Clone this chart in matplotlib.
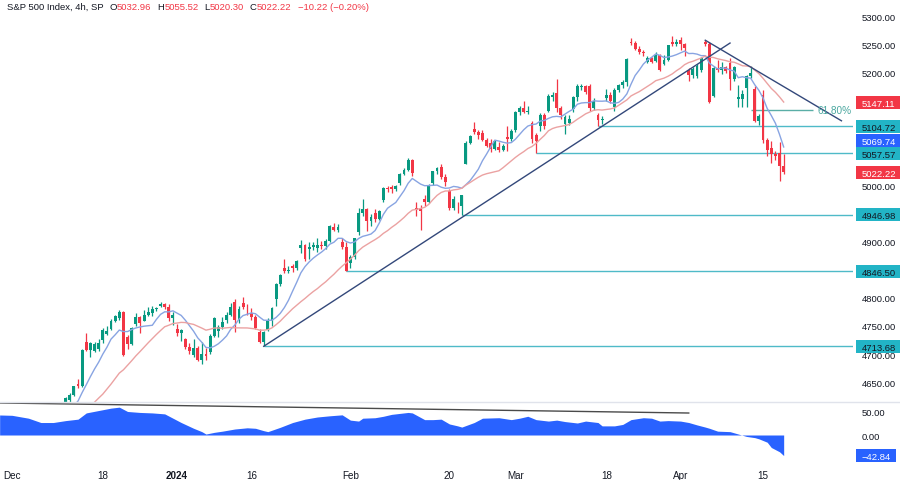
import matplotlib
matplotlib.use("Agg")
import matplotlib.pyplot as plt
import numpy as np
import pandas as pd
from matplotlib.patches import Rectangle
from matplotlib.lines import Line2D
from matplotlib.ticker import FixedLocator, FuncFormatter

plt.rcParams['font.family'] = ['Liberation Sans', 'DejaVu Sans']

# ---------------- data (4h candles, 1 Dec 2023 .. 17 Apr 2024) ----------------
opens = [4559, 4566, 4564, 4555, 4557, 4566, 4586, 4575, 4568, 4578,
         4576, 4596, 4601, 4610, 4618, 4628, 4646, 4643, 4721, 4707,
         4706, 4708, 4725, 4736, 4744, 4759, 4764, 4774, 4730, 4718,
         4753, 4765, 4758, 4770, 4773, 4780, 4786, 4789, 4783, 4764,
         4745, 4737, 4726, 4712, 4698, 4710, 4690, 4700, 4704, 4732,
         4741, 4748, 4760, 4770, 4792, 4760, 4791, 4784, 4772, 4766,
         4739, 4722, 4742, 4759, 4797, 4824, 4853, 4848, 4856, 4852,
         4888, 4893, 4886, 4890, 4888, 4893, 4892, 4901, 4925, 4921,
         4899, 4890, 4862, 4872, 4916, 4951, 4957, 4936, 4951, 4940,
         4973, 4995, 4996, 4993, 5004, 5020, 5026, 5045, 4960, 4957,
         4976, 4970, 5003, 5024, 5032, 5015, 4989, 4960, 4963, 4962,
         5038, 5075, 5100, 5094, 5093, 5080, 5074, 5064, 5068, 5062,
         5085, 5082, 5098, 5129, 5136, 5130, 5110, 5088, 5105, 5124,
         5132, 5156, 5164, 5136, 5108, 5110, 5135, 5156, 5174, 5176,
         5175, 5136, 5124, 5115, 5154, 5160, 5139, 5168, 5178, 5183,
         5254, 5252, 5242, 5237, 5219, 5225, 5220, 5230, 5214, 5222,
         5253, 5250, 5257, 5250, 5204, 5195, 5194, 5205, 5254, 5250,
         5158, 5208, 5205, 5209, 5217, 5188, 5152, 5153, 5172, 5193,
         5171, 5114, 5160, 5080, 5065, 5055, 5056, 5032.96]
highs = [4572, 4596, 4568, 4574, 4572, 4578, 4590, 4580, 4582, 4590,
         4600, 4610, 4612, 4623, 4630, 4644, 4655, 4709, 4738, 4722,
         4722, 4726, 4746, 4749, 4762, 4769, 4778, 4776, 4734, 4748,
         4772, 4768, 4778, 4784, 4785, 4784, 4793, 4791, 4788, 4774,
         4754, 4745, 4729, 4720, 4727, 4714, 4721, 4710, 4735, 4765,
         4752, 4765, 4774, 4790, 4798, 4785, 4802, 4788, 4782, 4770,
         4744, 4741, 4764, 4783, 4826, 4842, 4868, 4856, 4860, 4866,
         4903, 4896, 4898, 4898, 4906, 4900, 4905, 4929, 4932, 4930,
         4906, 4898, 4875, 4906, 4960, 4975, 4960, 4948, 4957, 4956,
         4997, 4999, 5000, 5000, 5022, 5030, 5048, 5046, 4970, 4965,
         4982, 5002, 5025, 5032, 5038, 5020, 4993, 4980, 4970, 4983,
         5078, 5089, 5111, 5098, 5097, 5084, 5081, 5080, 5077, 5073,
         5104, 5100, 5132, 5140, 5149, 5140, 5114, 5092, 5127, 5127,
         5162, 5165, 5189, 5140, 5124, 5124, 5158, 5179, 5180, 5178,
         5179, 5155, 5127, 5122, 5170, 5165, 5172, 5180, 5186, 5226,
         5261, 5256, 5246, 5240, 5229, 5228, 5236, 5233, 5230, 5249,
         5264, 5260, 5263, 5252, 5208, 5210, 5215, 5228, 5258, 5253,
         5212, 5222, 5219, 5212, 5225, 5212, 5178, 5168, 5195, 5211,
         5175, 5126, 5168, 5084, 5079, 5060, 5077, 5055.52]
lows = [4546, 4562, 4546, 4552, 4551, 4560, 4572, 4546, 4565, 4575,
        4575, 4592, 4594, 4608, 4615, 4625, 4640, 4641, 4705, 4694,
        4703, 4705, 4719, 4733, 4743, 4756, 4760, 4697, 4709, 4716,
        4750, 4737, 4758, 4768, 4768, 4776, 4783, 4780, 4758, 4751,
        4732, 4723, 4708, 4700, 4695, 4687, 4682, 4690, 4700, 4730,
        4731, 4745, 4755, 4768, 4739, 4755, 4780, 4770, 4760, 4744,
        4719, 4713.68, 4740, 4750, 4785, 4820, 4844, 4844, 4845, 4850,
        4880, 4865, 4869, 4885, 4881, 4886, 4887, 4898, 4918, 4916,
        4886, 4846.5, 4853, 4868, 4912, 4945, 4918, 4928, 4934, 4938,
        4970, 4988, 4985, 4990, 5000, 5018, 5024, 5016, 4945, 4920,
        4963, 4968, 5000, 5020, 5010, 4999, 4955, 4956, 4950, 4946.98,
        5038, 5072, 5090, 5081, 5078, 5068, 5058, 5062, 5058, 5060,
        5061, 5078, 5094, 5125, 5127, 5126, 5075, 5057.57, 5095, 5100,
        5130, 5150, 5130, 5117, 5091, 5106, 5130, 5150, 5168, 5161,
        5131, 5133, 5104.72, 5108, 5150, 5146, 5131, 5165, 5172, 5176,
        5248, 5240, 5233, 5229, 5216, 5216, 5218, 5203, 5213, 5220,
        5247, 5246, 5240, 5229, 5184, 5190, 5190, 5200, 5247, 5146,
        5157, 5200, 5197, 5198, 5168, 5185, 5138, 5138, 5138, 5190,
        5112, 5107, 5075, 5052, 5039, 5045, 5008, 5020.30]
closes = [4566, 4595, 4555, 4570, 4566, 4567, 4575, 4549, 4578, 4586,
          4596, 4604, 4610, 4622, 4628, 4643, 4643, 4707, 4707, 4719,
          4718, 4719, 4742, 4741, 4759, 4768, 4774, 4698, 4718, 4747,
          4765, 4755, 4770, 4775, 4780, 4782, 4789, 4783, 4764, 4770,
          4737, 4743, 4712, 4705, 4710, 4689, 4700, 4697, 4732, 4764,
          4748, 4757, 4770, 4783, 4760, 4780, 4784, 4783, 4766, 4746,
          4722, 4739, 4759, 4781, 4824, 4840, 4848, 4850, 4852, 4865,
          4893, 4869, 4890, 4894, 4893, 4891, 4901, 4928, 4921, 4925,
          4890, 4848, 4872, 4906, 4951, 4958, 4936, 4943, 4940, 4954,
          4995, 4993, 4993, 4998, 5020, 5027, 5045, 5022, 4955, 4953,
          4970, 5000, 5024, 5030, 5015, 5006, 4960, 4975, 4962, 4982,
          5075, 5087, 5094, 5089, 5080, 5070, 5064, 5078, 5062, 5070,
          5082, 5096, 5129, 5137, 5130, 5131, 5082, 5079, 5124, 5105,
          5158, 5160, 5136, 5124, 5120, 5118, 5156, 5175, 5176, 5165,
          5136, 5150, 5115, 5117, 5160, 5149, 5168, 5178, 5183, 5224,
          5252, 5241, 5237, 5234, 5225, 5218, 5230, 5204, 5222, 5248,
          5250, 5254, 5250, 5244, 5195, 5206, 5212, 5226, 5250, 5147,
          5208, 5204, 5209, 5202, 5188, 5210, 5156, 5161, 5193, 5199,
          5114, 5123, 5080, 5062, 5055, 5051, 5033, 5022.22]

# oscillator (sampled at candle positions)
osc_idx = [-3, 0, 4, 7, 10, 13, 16, 18, 21, 24, 26, 28, 31, 34, 37, 39, 41, 44, 46, 47,
           49, 51, 54, 57, 59, 61, 62, 65, 68, 71, 74, 77, 80, 82, 84, 85, 88, 90, 92, 96,
           97, 100, 102, 104, 106, 108, 109, 112, 114, 118, 121, 123, 125, 127, 130, 132,
           134, 137, 139, 142, 143, 146, 148, 150, 153, 155, 157, 159, 162, 164, 166, 168,
           169, 171, 174, 176, 178, 180, 181, 183, 184, 186, 187]
osc_vals = [41.7, 41, 35, 26, 26, 30, 33, 46, 51, 56, 58, 49, 47, 46, 44, 35, 26, 14, 7, 2,
            5.5, 8, 12.5, 15, 14, 9, 7, 16, 26, 33, 37.5, 40, 42, 31, 29, 35, 36, 39, 43, 47,
            46, 32, 32, 33, 23, 19, 16.5, 26, 35, 36, 32, 35, 39, 32, 29, 31,
            28, 25, 29, 26, 19, 19, 22, 32, 36, 35, 29, 30, 29, 26, 21, 16.5,
            14, 8, 7, 2, -3, -5.5, -8, -15, -26, -35, -42.84]

# drawn levels / trend lines (index, price)
level_vals = [4713.68, 4846.50, 4946.98, 5057.57, 5104.72]
level_start = [61, 81, 109, 127, 142]
up_trend_x, up_trend_y = [61, 174], [4713.68, 5252]
down_trend_x, down_trend_y = [168, 201], [5257, 5114]
fib_x, fib_level, fib_text = [179, 194], 5133, "61.80%"
osc_trend_x, osc_trend_y = [-2.9, 164], [66.7, 45.8]

ma_fast_last, ma_slow_last = "5069.74", "5147.11"

tick_pos = [0, 22, 40, 58, 82, 106, 122, 144, 162, 182]
tick_lab = ['Dec', '18', '2024', '16', 'Feb', '20', 'Mar', '18', 'Apr', '15']
# price scale labels that are not hidden behind the value boxes
price_ticks = [4650, 4700, 4750, 4800, 4900, 5000, 5200, 5250, 5300]

# ---------------- styling ----------------
GREEN = '#089981'
RED = '#f23645'
CYAN_LINE = '#4fbac8'
CYAN_BOX = '#22b4c6'
BLUE = '#2962ff'
NAVY = '#33487a'
TXT = '#131722'
FS = 6.8

W, H = 900, 481
fig = plt.figure(figsize=(9, 4.81), dpi=100)
fig.patch.set_facecolor('white')

def fx(px):
    return px / W

def fy(py):
    return 1 - py / H

ax = fig.add_axes([0, fy(403), fx(853), fy(0) - fy(403)])
axo = fig.add_axes([0, fy(465), fx(853), fy(403) - fy(465)], sharex=ax)

x_left, x_right = -2.91, 203.8
ax.set_xlim(x_left, x_right)
ax.set_ylim(4614.8, 5330.2)
axo.set_ylim(-60.4, 68.75)

for a in (ax, axo):
    for s in a.spines.values():
        s.set_visible(False)
    a.set_facecolor('none')

# candles
idx = np.arange(len(closes))
o = np.array(opens, float); h = np.array(highs, float)
l = np.array(lows, float); c = np.array(closes, float)
cols = np.where(c >= o, GREEN, RED)
ax.vlines(idx, l, h, colors=cols, linewidth=0.9, zorder=3)
ax.bar(idx, np.maximum(np.abs(c - o), 0.9), bottom=np.minimum(o, c), width=0.7,
       color=cols, linewidth=0, zorder=4)

# moving averages
cs = pd.Series(c)
ax.plot(idx, cs.rolling(8).mean(), color='#88a4e2', lw=1.0, zorder=5)
ax.plot(idx, cs.rolling(21).mean(), color='#eba2a2', lw=1.0, zorder=5)

# horizontal levels
for v, s0 in zip(level_vals, level_start):
    ax.hlines(v, s0, x_right, color=CYAN_LINE, lw=1.0, zorder=2)

# trend lines
ax.plot(up_trend_x, up_trend_y, color=NAVY, lw=1.0, zorder=6)
ax.plot(down_trend_x, down_trend_y, color=NAVY, lw=1.0, zorder=6)
ax.hlines(fib_level, fib_x[0], fib_x[1], color='#5aaea6', lw=1.0, zorder=2)
ax.text(fib_x[1] + 1.3, fib_level, fib_text, color='#4aa79f', fontsize=FS + 0.4,
        va='center', ha='left', zorder=6)

# price axis
ax.yaxis.tick_right()
ax.yaxis.set_major_locator(FixedLocator(price_ticks))
ax.yaxis.set_major_formatter(FuncFormatter(lambda v, p: f"{v:.2f}"))
ax.tick_params(axis='y', length=0, pad=6.5, labelsize=FS, labelcolor=TXT)
ax.tick_params(axis='x', length=0, labelbottom=False)

# oscillator
axo.fill_between(osc_idx, osc_vals, 0, color=BLUE, lw=0, zorder=3)
axo.plot(osc_trend_x, osc_trend_y, color='#4a4a4a', lw=1.0, zorder=4)
axo.yaxis.tick_right()
axo.yaxis.set_major_locator(FixedLocator([0, 50]))
axo.yaxis.set_major_formatter(FuncFormatter(lambda v, p: f"{v:.2f}"))
axo.tick_params(axis='y', length=0, pad=6.5, labelsize=FS, labelcolor=TXT)
axo.xaxis.set_major_locator(FixedLocator(tick_pos))
axo.set_xticklabels(tick_lab)
axo.tick_params(axis='x', length=0, pad=4, labelsize=FS + 0.3, labelcolor=TXT)
for t in axo.get_xticklabels():
    if t.get_text() == '2024':
        t.set_fontweight('bold')

# separator line
fig.add_artist(Line2D([0, 1], [fy(403), fy(403)], transform=fig.transFigure,
                      color='#e0e3eb', lw=1))

# right-side value boxes
def value_box(axis, val, text, fc, tc, shift_px=0.0, x0=856, x1=900, hpx=13):
    ypix_disp = axis.transData.transform((0, val))[1]
    ycen = ypix_disp / fig.dpi / fig.get_figheight() + shift_px / H
    fig.add_artist(Rectangle((fx(x0), ycen - hpx / 2 / H), fx(x1 - x0), hpx / H,
                             transform=fig.transFigure, facecolor=fc, edgecolor='none',
                             zorder=5))
    fig.text(fx(862), ycen, text, color=tc, fontsize=FS, ha='left', va='center_baseline',
             zorder=6)

value_box(ax, float(ma_slow_last), ma_slow_last, RED, 'white')
value_box(ax, level_vals[4], f"{level_vals[4]:.2f}", CYAN_BOX, TXT)
value_box(ax, float(ma_fast_last), ma_fast_last, BLUE, 'white', shift_px=5)
value_box(ax, level_vals[3], f"{level_vals[3]:.2f}", CYAN_BOX, TXT, shift_px=-1)
value_box(ax, closes[-1], f"{closes[-1]:.2f}", RED, 'white')
value_box(ax, level_vals[2], f"{level_vals[2]:.2f}", CYAN_BOX, TXT)
value_box(ax, level_vals[1], f"{level_vals[1]:.2f}", CYAN_BOX, TXT)
value_box(ax, level_vals[0], f"{level_vals[0]:.2f}", CYAN_BOX, TXT)
value_box(axo, osc_vals[-1], "\u2212" + f"{abs(osc_vals[-1]):.2f}", BLUE, 'white', x1=896)

# header, pieces chained one after another
pieces = [
    ("S&P 500 Index, 4h, SP", TXT, 0),
    ("O", TXT, 6), (f"{opens[-1]:.2f}", RED, 0),
    ("H", TXT, 6), (f"{highs[-1]:.2f}", RED, 0),
    ("L", TXT, 6), (f"{lows[-1]:.2f}", RED, 0),
    ("C", TXT, 6), (f"{closes[-1]:.2f}", RED, 0),
    ("\u2212" + "10.22 (\u22120.20%)", RED, 6),
]
prev = None
for s, col, gap in pieces:
    if prev is None:
        prev = fig.text(fx(7), fy(7), s, color=col, fontsize=FS, ha='left', va='center')
    else:
        prev = fig.add_artist(matplotlib.text.Annotation(
            s, xy=(1, 0.5), xycoords=prev, xytext=(gap, 0), textcoords='offset pixels',
            color=col, fontsize=FS, ha='left', va='center'))

fig.savefig('out.png', dpi=100)
